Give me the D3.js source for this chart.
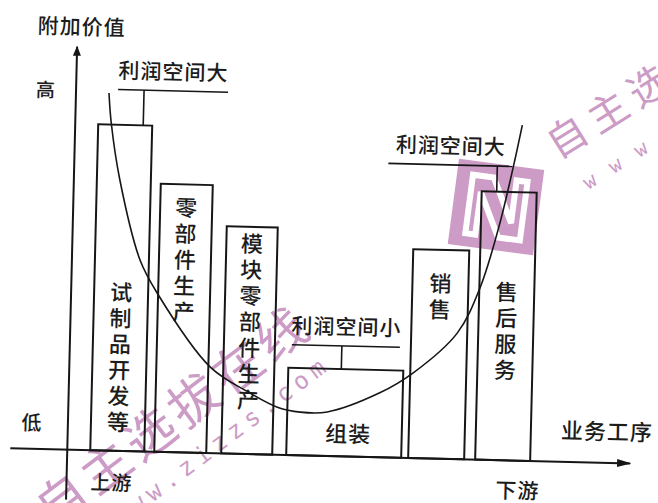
<!DOCTYPE html>
<html>
<head>
<meta charset="utf-8">
<script src="https://cdn.jsdelivr.net/npm/d3@7"></script>
<style>
  body { margin: 0; background: #fff; }
  svg { display: block; }
  text { font-family: "Noto Sans CJK SC", sans-serif; fill: #1c1c1c; font-weight: 500; }
</style>
</head>
<body>
<div id="chart"></div>
<script>
// stages along the value chain (upstream -> downstream)
const stages = ["试制品开发等", "零部件生产", "模块零部件生产", "组装", "销售", "售后服务"];
const stageStart = [2.3, 8.7, 15.4, 21.9, 34.1, 40.8];
const stageEnd = [7.7, 13.9, 20.5, 33.4, 39.7, 46.3];
const addedValue = [81.5, 67.0, 56.8, 21.8, 52.2, 67.1];
// level of the first character of each stage label
const labelLevel = [39.6, 61.1, 52.5, 5.6, 43.7, 42.0];

// smile curve
const curveX = [3.3, 3.6, 4.6, 6.8, 8.6, 14.1, 18.1, 20.9, 23.2, 25.9, 31.1, 34.4, 38.7, 40.9, 42.7, 43.9, 44.7];
const curveY = [89.4, 81.9, 67.7, 47.9, 39.7, 21.5, 15.3, 11.9, 10.8, 11.0, 16.1, 21.3, 31.5, 43.2, 59.3, 73.4, 83.9];

// profit-space callouts
const notes = ["利润空间大", "利润空间小", "利润空间大"];
const noteStage = [0, 3, 5];
const noteStem = [6.8, 27.2, 42.3];
const noteFrom = [4.2, 22.2, 31.4];
const noteTo = [15.2, 33.0, 43.8];
const noteLevel = [90.3, 27.6, 73.5];

const W = 658, H = 503;
const ink = "#161616";
const pink = "#cc9bc6";

const svg = d3.select("#chart").append("svg")
  .attr("width", W)
  .attr("height", H);

// watermark (sits under the drawing)
const wm = svg.append("g");

const logo = wm.append("g").attr("transform", "translate(496,207) rotate(7.5)");
logo.append("rect")
  .attr("x", -43).attr("y", -43).attr("width", 86).attr("height", 86)
  .attr("fill", pink);
logo.append("path")
  .attr("d", "M-27,30 V-29 H-6 L17,14 V-29 H28 V30 H6 L-17,-13 V30 Z")
  .attr("fill", "none")
  .attr("stroke", "#fff")
  .attr("stroke-width", 6);

const wmTop = wm.append("g").attr("transform", "translate(567,137) rotate(-32)");
wmTop.append("text")
  .attr("x", -20).attr("dy", "0.36em")
  .style("font-size", "40px").style("font-weight", 400).style("letter-spacing", "8px")
  .style("fill", pink)
  .text("自主选");
wmTop.append("text")
  .attr("x", -10).attr("y", 49).attr("dy", "0.36em")
  .style("font-family", "'DejaVu Sans Mono', monospace")
  .style("font-size", "20px").style("font-weight", 400).style("letter-spacing", "18px")
  .style("fill", pink)
  .text("www");

const wmBottom = wm.append("g").attr("transform", "translate(62,500) rotate(-37)");
wmBottom.append("text")
  .attr("x", -25).attr("dy", "0.36em")
  .style("font-size", "50px").style("font-weight", 400).style("letter-spacing", "5px")
  .style("fill", pink)
  .text("自主选拔在线");
wmBottom.append("text")
  .attr("x", 30).attr("y", 48).attr("dy", "0.36em")
  .style("font-family", "'DejaVu Sans Mono', monospace")
  .style("font-size", "24px").style("font-weight", 400).style("letter-spacing", "6px")
  .style("fill", pink)
  .text("www.zizzs.com");

// the scanned figure is tilted slightly clockwise
const g = svg.append("g").attr("transform", "rotate(1.4,330,300)");

const x = d3.scaleLinear().domain([0, 56]).range([71, 631]);
const y = d3.scaleLinear().domain([0, 100]).range([456, 56]);

const defs = svg.append("defs");
defs.append("marker")
  .attr("id", "arrowX")
  .attr("markerUnits", "userSpaceOnUse")
  .attr("markerWidth", 14).attr("markerHeight", 10)
  .attr("refX", 13).attr("refY", 5)
  .attr("orient", "auto")
  .append("path").attr("d", "M0,1 L14,5 L0,9 Z").attr("fill", ink);
defs.append("marker")
  .attr("id", "arrowY")
  .attr("markerUnits", "userSpaceOnUse")
  .attr("markerWidth", 10).attr("markerHeight", 8)
  .attr("refX", 9).attr("refY", 4)
  .attr("orient", "auto")
  .append("path").attr("d", "M0,0 L10,4 L0,8 Z").attr("fill", ink);

// axes
g.append("line")
  .attr("x1", x.range()[0] - 57).attr("x2", x.range()[1] + 3)
  .attr("y1", y(0)).attr("y2", y(0))
  .attr("stroke", ink).attr("stroke-width", 2)
  .attr("marker-end", "url(#arrowX)");
g.append("line")
  .attr("x1", x(0)).attr("x2", x(0))
  .attr("y1", y(0) + 50).attr("y2", y(100) - 3)
  .attr("stroke", ink).attr("stroke-width", 2)
  .attr("marker-end", "url(#arrowY)");

// bars
g.selectAll(".bar")
  .data(stages)
  .join("rect")
  .attr("class", "bar")
  .attr("x", (d, i) => x(stageStart[i]))
  .attr("y", (d, i) => y(addedValue[i]))
  .attr("width", (d, i) => x(stageEnd[i]) - x(stageStart[i]))
  .attr("height", (d, i) => y(0) - y(addedValue[i]))
  .attr("fill", "none")
  .attr("stroke", ink)
  .attr("stroke-width", 2);

// stage labels: vertical for tall bars, horizontal for the short one
stages.forEach((name, i) => {
  const cx = (x(stageStart[i]) + x(stageEnd[i])) / 2;
  const top = y(labelLevel[i]);
  if (y(0) - y(addedValue[i]) < 120) {
    g.append("text")
      .attr("x", cx + 4).attr("y", top).attr("dy", "0.36em")
      .attr("text-anchor", "middle")
      .style("font-size", "22px")
      .style("letter-spacing", "1px")
      .text(name);
  } else {
    g.append("g").selectAll("text")
      .data(Array.from(name))
      .join("text")
      .attr("x", cx)
      .attr("y", (c, k) => top + k * 26)
      .attr("dy", "0.36em")
      .attr("text-anchor", "middle")
      .style("font-size", "22px")
      .text(c => c);
  }
});

// smile curve
g.append("path")
  .datum(curveX.map((v, i) => [v, curveY[i]]))
  .attr("d", d3.line().x(d => x(d[0])).y(d => y(d[1])).curve(d3.curveCatmullRom))
  .attr("fill", "none")
  .attr("stroke", ink)
  .attr("stroke-width", 1.6);

// callouts
notes.forEach((t, i) => {
  const ly = y(noteLevel[i]);
  g.append("line")
    .attr("x1", x(noteFrom[i])).attr("x2", x(noteTo[i]))
    .attr("y1", ly).attr("y2", ly)
    .attr("stroke", ink).attr("stroke-width", 1.6);
  g.append("line")
    .attr("x1", x(noteStem[i])).attr("x2", x(noteStem[i]))
    .attr("y1", ly).attr("y2", y(addedValue[noteStage[i]]))
    .attr("stroke", ink).attr("stroke-width", 1.6);
  g.append("text")
    .attr("x", (x(noteFrom[i]) + x(noteTo[i])) / 2)
    .attr("y", ly - 19).attr("dy", "0.36em")
    .attr("text-anchor", "middle")
    .style("font-size", "21px")
    .style("letter-spacing", "1px")
    .text(t);
});

// axis words
const words = [
  ["附加价值", 75, 33, 21],
  ["高", 41, 97, 19],
  ["低", 35, 430, 20],
  ["上游", 116, 488, 20],
  ["下游", 522, 486, 21],
  ["业务工序", 610, 425, 22]
];
g.selectAll(".word")
  .data(words)
  .join("text")
  .attr("class", "word")
  .attr("x", d => d[1])
  .attr("y", d => d[2])
  .attr("dy", "0.36em")
  .attr("text-anchor", "middle")
  .style("font-size", d => d[3] + "px")
  .style("letter-spacing", "1px")
  .text(d => d[0]);
</script>
</body>
</html>
